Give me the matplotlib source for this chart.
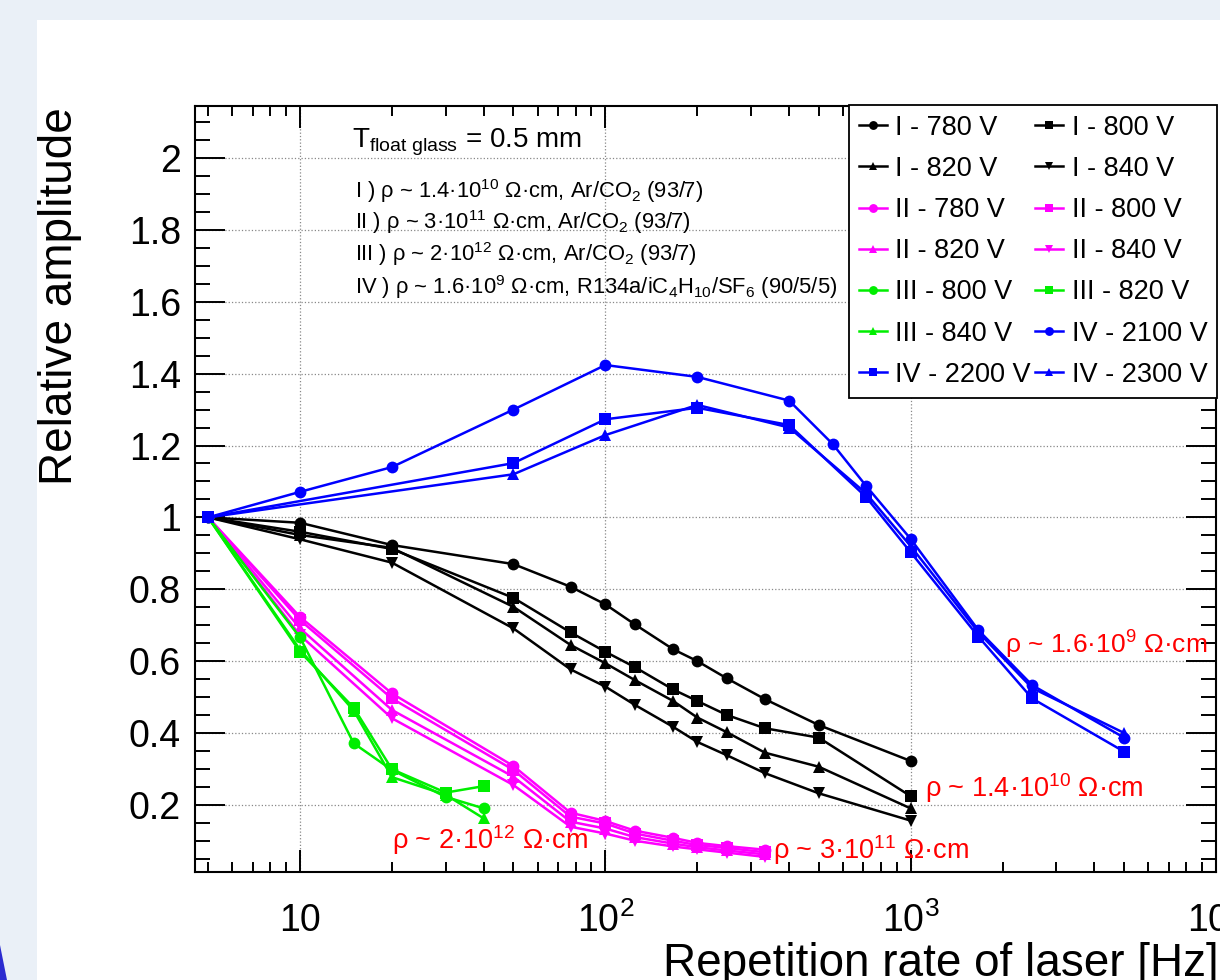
import numpy as np
import matplotlib
matplotlib.use('Agg')
import matplotlib.pyplot as plt
from matplotlib.patches import Rectangle, Polygon
from matplotlib.ticker import FixedLocator, FixedFormatter, LogLocator, MultipleLocator, FuncFormatter, NullFormatter

plt.rcParams['font.family'] = ['Liberation Sans', 'DejaVu Sans']
plt.rcParams['mathtext.fontset'] = 'custom'
plt.rcParams['mathtext.rm'] = 'Liberation Sans'
plt.rcParams['mathtext.it'] = 'Liberation Sans:italic'
plt.rcParams['mathtext.bf'] = 'Liberation Sans:bold'

# ============================================================
# Data
# ============================================================

# Glass I : rho ~ 1.4e10 Ohm cm, Ar/CO2
x_I = [5, 10, 20, 50, 76.9, 100, 125, 166.7, 200, 250, 333.3, 500, 1000]
I_780 = [1.0, 0.985, 0.923, 0.870, 0.807, 0.758, 0.702, 0.633, 0.600, 0.552, 0.494, 0.422, 0.322]
I_800 = [1.0, 0.960, 0.912, 0.776, 0.680, 0.626, 0.583, 0.521, 0.489, 0.450, 0.413, 0.387, 0.224]
I_820 = [1.0, 0.951, 0.915, 0.751, 0.645, 0.594, 0.547, 0.489, 0.443, 0.402, 0.345, 0.306, 0.190]
I_840 = [1.0, 0.939, 0.874, 0.691, 0.577, 0.529, 0.478, 0.417, 0.375, 0.338, 0.288, 0.232, 0.156]

# Glass II : rho ~ 3e11 Ohm cm, Ar/CO2
x_II = [5, 10, 20, 50, 76.9, 100, 125, 166.7, 200, 250, 333.3]
II_780 = [1.0, 0.723, 0.510, 0.308, 0.178, 0.155, 0.128, 0.108, 0.094, 0.085, 0.075]
II_800 = [1.0, 0.714, 0.496, 0.297, 0.167, 0.148, 0.120, 0.100, 0.088, 0.080, 0.068]
II_820 = [1.0, 0.691, 0.464, 0.278, 0.153, 0.134, 0.110, 0.092, 0.082, 0.073, 0.062]
II_840 = [1.0, 0.672, 0.441, 0.255, 0.139, 0.120, 0.100, 0.084, 0.076, 0.067, 0.055]

# Glass III : rho ~ 2e12 Ohm cm, Ar/CO2
x_III = [5, 10, 15, 20, 30, 40]
III_800 = [1.0, 0.666, 0.371, 0.297, 0.222, 0.190]
III_820 = [1.0, 0.626, 0.470, 0.299, 0.234, 0.252]
III_840 = [1.0, 0.632, 0.462, 0.277, 0.228, 0.162]

# Glass IV : rho ~ 1.6e9 Ohm cm, R134a/iC4H10/SF6
x_IV_2100 = [5, 10, 20, 50, 100, 200, 400, 555.6, 714, 1000, 1667, 2500, 5000]
IV_2100 = [1.0, 1.071, 1.140, 1.300, 1.424, 1.391, 1.325, 1.204, 1.088, 0.940, 0.686, 0.533, 0.387]
x_IV = [5, 50, 100, 200, 400, 714, 1000, 1667, 2500, 5000]
IV_2200 = [1.0, 1.151, 1.273, 1.305, 1.257, 1.057, 0.903, 0.668, 0.496, 0.348]
IV_2300 = [1.0, 1.120, 1.229, 1.313, 1.250, 1.067, 0.920, 0.680, 0.525, 0.400]

series = [
    ('I - 780 V', x_I, I_780, 'black', 'o'),
    ('I - 800 V', x_I, I_800, 'black', 's'),
    ('I - 820 V', x_I, I_820, 'black', '^'),
    ('I - 840 V', x_I, I_840, 'black', 'v'),
    ('II - 780 V', x_II, II_780, '#ff00ff', 'o'),
    ('II - 800 V', x_II, II_800, '#ff00ff', 's'),
    ('II - 820 V', x_II, II_820, '#ff00ff', '^'),
    ('II - 840 V', x_II, II_840, '#ff00ff', 'v'),
    ('III - 800 V', x_III, III_800, '#00ee00', 'o'),
    ('III - 820 V', x_III, III_820, '#00ee00', 's'),
    ('III - 840 V', x_III, III_840, '#00ee00', '^'),
    ('IV - 2100 V', x_IV_2100, IV_2100, '#0000ff', 'o'),
    ('IV - 2200 V', x_IV, IV_2200, '#0000ff', 's'),
    ('IV - 2300 V', x_IV, IV_2300, '#0000ff', '^'),
]

# ============================================================
# Figure
# ============================================================
W, H = 1220, 980
fig = plt.figure(figsize=(W / 100, H / 100), dpi=100)
fig.patch.set_facecolor('#eaf0f7')
fig.add_artist(Rectangle((37 / W, 0), 1 - 37 / W, 1 - 20 / H, transform=fig.transFigure,
                         facecolor='white', edgecolor='none', zorder=-5))
sliver = np.array([[0, 945], [3, 960], [6, 975], [7, 980], [0, 980]], dtype=float)
fig.add_artist(Polygon(np.c_[sliver[:, 0] / W, 1 - sliver[:, 1] / H], closed=True,
                       transform=fig.transFigure, facecolor='#2b2bd0', edgecolor='none', zorder=-4))

ax_l, ax_r, ax_t, ax_b = 195, 1216, 106, 872
ax = fig.add_axes([ax_l / W, 1 - ax_b / H, (ax_r - ax_l) / W, (ax_b - ax_t) / H])

handles = []
for label, xs, ys, col, mk in series:
    h, = ax.plot(xs, ys, color=col, marker=mk, markersize=8.5, lw=1.8,
                 markeredgewidth=0, label=label, clip_on=False)
    handles.append(h)

ax.set_xscale('log')
ax.set_xlim(4.53, 1e4)
ax.set_ylim(0.013, 2.145)

ax.xaxis.set_major_locator(FixedLocator([10, 100, 1000, 10000]))
ax.xaxis.set_major_formatter(FixedFormatter(['10', '$10^{2}$', '$10^{3}$', '$10^{4}$']))
ax.xaxis.set_minor_locator(LogLocator(base=10, subs=np.arange(2, 10), numticks=20))
ax.xaxis.set_minor_formatter(NullFormatter())
ax.yaxis.set_major_locator(MultipleLocator(0.2))
ax.yaxis.set_minor_locator(MultipleLocator(0.05))
ax.yaxis.set_major_formatter(FuncFormatter(lambda v, p: '%g' % round(v, 2)))

ax.tick_params(which='both', direction='in', top=True, right=True, width=1.4, labelsize=27)
ax.tick_params(axis='y', which='major', length=21.6, pad=10)
ax.tick_params(axis='y', which='minor', length=10.8)
ax.tick_params(axis='x', which='major', length=15.8, pad=22)
ax.tick_params(axis='x', which='minor', length=7.2)
for sp in ax.spines.values():
    sp.set_linewidth(1.5)
ax.grid(True, which='major', linestyle=':', color='#888888', lw=0.9)

# Axis titles (ROOT style: aligned to the axis ends)
fig.text(60 / W, 1 - 107 / H, 'Relative amplitude', rotation=90, ha='center', va='top', fontsize=33)
fig.text(1219 / W, 1 - 976 / H, 'Repetition rate of laser [Hz]', ha='right', va='baseline', fontsize=33)

# Legend, filled row by row like ROOT
order = [0, 2, 4, 6, 8, 10, 12, 1, 3, 5, 7, 9, 11, 13]
leg = ax.legend([handles[i] for i in order], [series[i][0] for i in order], ncol=2,
                loc='upper right', bbox_to_anchor=(1217 / W, 1 - 105 / H),
                bbox_transform=fig.transFigure, borderaxespad=0, fontsize=19.5,
                handlelength=1.05, handletextpad=0.3, columnspacing=0.15,
                labelspacing=0.56, borderpad=0.36, markerscale=0.75,
                fancybox=False, framealpha=1, edgecolor='black')
leg.get_frame().set_linewidth(1.3)

# Descriptive text
def fx(px):
    return (px - ax_l) / (ax_r - ax_l)

def fy(py):
    return 1 - (py - ax_t) / (ax_b - ax_t)

ax.text(fx(352), fy(142), r'T$_{\mathrm{float\ glass}}$ = 0.5 mm', transform=ax.transAxes,
        fontsize=20, va='center', ha='left')
notes = [
    r'I ) ρ ~ 1.4·10$^{10}$ Ω·cm, Ar/CO$_{2}$ (93/7)',
    r'II ) ρ ~ 3·10$^{11}$ Ω·cm, Ar/CO$_{2}$ (93/7)',
    r'III ) ρ ~ 2·10$^{12}$ Ω·cm, Ar/CO$_{2}$ (93/7)',
    r'IV ) ρ ~ 1.6·10$^{9}$ Ω·cm, R134a/iC$_{4}$H$_{10}$/SF$_{6}$ (90/5/5)',
]
for txt, py in zip(notes, [191, 222, 254, 287]):
    ax.text(fx(355), fy(py), txt, transform=ax.transAxes, fontsize=15.8, va='center', ha='left')

# Red labels (data coordinates)
red = '#ff0000'
ax.text(2030, 0.645, r'ρ ~ 1.6·10$^{9}$ Ω·cm', color=red, fontsize=19, va='center', ha='left')
ax.text(1114, 0.247, r'ρ ~ 1.4·10$^{10}$ Ω·cm', color=red, fontsize=19.5, va='center', ha='left')
ax.text(20.0, 0.102, r'ρ ~ 2·10$^{12}$ Ω·cm', color=red, fontsize=19.5, va='center', ha='left')
ax.text(354, 0.074, r'ρ ~ 3·10$^{11}$ Ω·cm', color=red, fontsize=19.5, va='center', ha='left')

fig.savefig('out.png', dpi=100, facecolor=fig.get_facecolor())
